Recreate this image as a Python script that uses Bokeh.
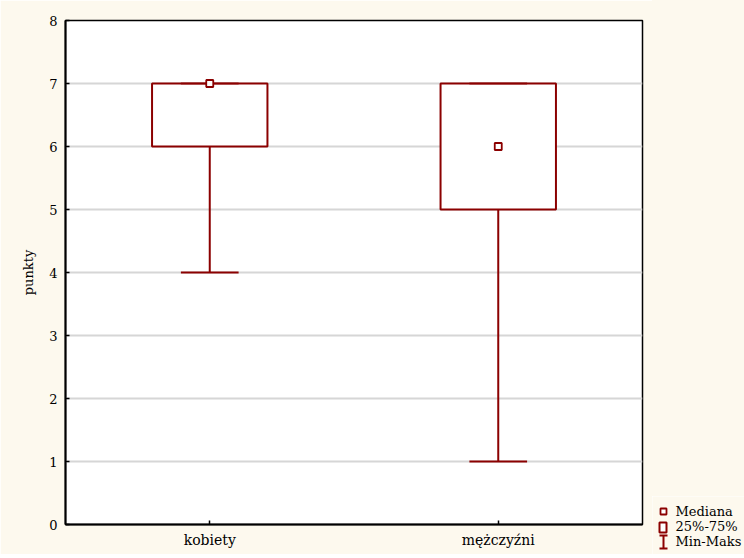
from bokeh.plotting import figure
from bokeh.models import ColumnDataSource, FactorRange, Range1d, FixedTicker, Spacer
from bokeh.transform import dodge
from bokeh.layouts import row, column
from bokeh.core.properties import value
from bokeh.embed import file_html
from bokeh.resources import INLINE

# ---- data ----
groups = ["kobiety", "mężczyźni"]
mins = [4, 1]
q1 = [6, 5]
medians = [7, 6]
q3 = [7, 7]
maxs = [7, 7]
y_ticks = [0, 1, 2, 3, 4, 5, 6, 7, 8]
y_label = "punkty"
legend_labels = ["Mediana", "25%-75%", "Min-Maks"]

RED = "#8b0000"
CREAM = "#fdf9ee"
FONT = "DejaVu Serif"
H = 554

src = ColumnDataSource(dict(g=groups, mn=mins, q1=q1, med=medians, q3=q3, mx=maxs))

p = figure(width=652, height=H, x_range=FactorRange(*groups, range_padding=0),
           y_range=Range1d(0, 8), toolbar_location=None, output_backend="svg",
           min_border_left=65, min_border_right=10, min_border_top=20, min_border_bottom=30)
p.background_fill_color = "white"
p.border_fill_color = CREAM
p.outline_line_color = "black"
p.outline_line_width = 1.5

p.xgrid.visible = False
p.ygrid.grid_line_color = "#d6d6d6"
p.ygrid.grid_line_width = 2
p.yaxis.ticker = FixedTicker(ticks=y_ticks)
p.yaxis.minor_tick_line_color = None
for ax in (p.xaxis[0], p.yaxis[0]):
    ax.axis_line_width = 2
    ax.axis_line_color = "black"
    ax.major_tick_in = 4
    ax.major_tick_out = 0
    ax.major_tick_line_width = 1.5
    ax.major_label_text_font = FONT
    ax.major_label_text_font_size = "13px"
    ax.major_label_text_color = "black"
    ax.axis_label_text_font = FONT
    ax.axis_label_text_font_size = "13px"
    ax.axis_label_text_font_style = "normal"
    ax.axis_label_text_color = "black"
p.xaxis.major_label_text_font_size = "14px"
p.yaxis.major_label_standoff = 8
p.xaxis.major_label_standoff = 7
p.yaxis.axis_label = y_label
p.yaxis.axis_label_standoff = 10

# whisker (min -> Q1)
p.segment(x0="g", y0="mn", x1="g", y1="q1", source=src, line_color=RED, line_width=2)
# box Q1-Q3
p.vbar(x="g", bottom="q1", top="q3", width=0.4, source=src, fill_color="white",
       line_color=RED, line_width=2)
# caps
p.segment(x0=dodge("g", -0.1, range=p.x_range), x1=dodge("g", 0.1, range=p.x_range),
          y0="mn", y1="mn", source=src, line_color=RED, line_width=2)
p.segment(x0=dodge("g", -0.1, range=p.x_range), x1=dodge("g", 0.1, range=p.x_range),
          y0="mx", y1="mx", source=src, line_color=RED, line_width=2, line_alpha=0.75)
# median
p.scatter(x="g", y="med", source=src, marker="square", size=7, fill_color="white",
          line_color=RED, line_width=1.8)

# ---- legend panel (page-pixel coordinates, y from 496 to 554) ----
LT = 496
LB = 554
lf = figure(width=92, height=LB - LT, x_range=Range1d(0, 92), y_range=Range1d(LB, LT),
            toolbar_location=None, output_backend="svg", min_border=0,
            x_axis_location=None, y_axis_location=None)
lf.grid.visible = False
lf.outline_line_color = None
lf.background_fill_color = CREAM
lf.border_fill_color = CREAM

lf.scatter(x=[11], y=[511], marker="square", size=6, fill_color="white",
           line_color=RED, line_width=1.8)
lf.quad(left=[7], right=[14], top=[522], bottom=[532], fill_color="white",
        line_color=RED, line_width=2)
lf.segment(x0=[11, 7, 7], y0=[535, 535, 548], x1=[11, 15, 15], y1=[548, 535, 548],
           line_color=RED, line_width=2)
lf.text(x=[23, 23, 23], y=[511, 526, 541], text=legend_labels,
        text_font=value(FONT), text_font_size="13px", text_baseline="middle",
        text_align="left", text_color="black")

side = column(Spacer(width=92, height=LT, styles={"background-color": CREAM}), lf, spacing=0)
layout = row(p, side, spacing=0)
open("out.html", "w").write(file_html(layout, INLINE))
